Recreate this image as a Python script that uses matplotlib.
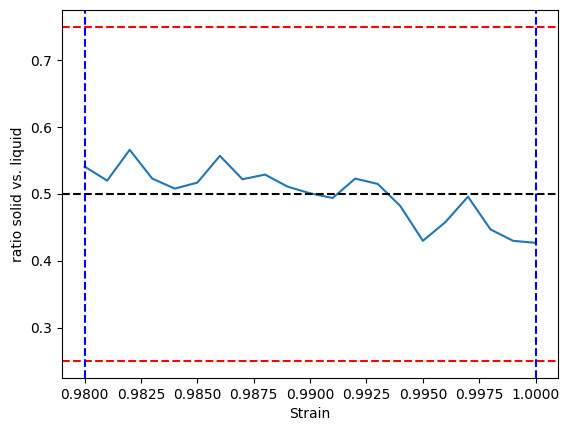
import matplotlib
matplotlib.use("Agg")
import matplotlib.pyplot as plt

strain = [0.980, 0.981, 0.982, 0.983, 0.984, 0.985, 0.986, 0.987, 0.988, 0.989, 0.990,
          0.991, 0.992, 0.993, 0.994, 0.995, 0.996, 0.997, 0.998, 0.999, 1.000]
ratio = [0.541, 0.520, 0.566, 0.523, 0.508, 0.517, 0.557, 0.522, 0.529, 0.511, 0.501,
         0.494, 0.523, 0.515, 0.482, 0.430, 0.458, 0.496, 0.447, 0.430, 0.427]

fig, ax = plt.subplots(figsize=(5.69, 4.33), dpi=100)
fig.subplots_adjust(left=0.109, right=0.981, top=0.977, bottom=0.127)

ax.plot(strain, ratio)
ax.axhline(0.5, color='k', linestyle='--')
ax.axhline(0.25, color='r', linestyle='--')
ax.axhline(0.75, color='r', linestyle='--')
ax.axvline(strain[0], color='b', linestyle='--')
ax.axvline(strain[-1], color='b', linestyle='--')

ax.set_xlabel('Strain')
ax.set_ylabel('ratio solid vs. liquid')

fig.savefig('out.png', dpi=100)
